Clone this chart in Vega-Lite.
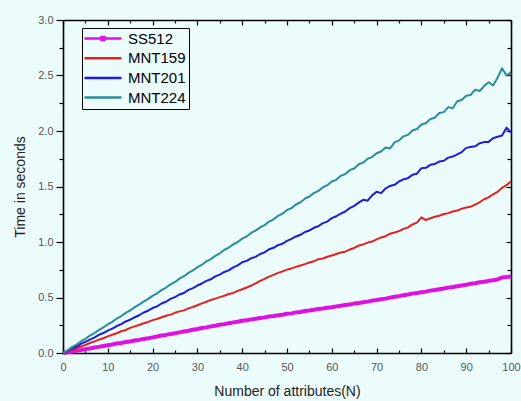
{
"$schema": "https://vega.github.io/schema/vega-lite/v6.json",
"width": 448, "height": 333,
"autosize": {"type": "none"},
"padding": {"left": 63, "top": 20, "right": 10, "bottom": 48},
"background": "#ecfcfc",
"config": {"view": {"stroke": null}, "font": "Liberation Sans", "legend": {"strokeWidth": 1}},
"datasets": {"d": [
{"N":0,"s":"SS512","t":0},{"N":1,"s":"SS512","t":0.007},{"N":2,"s":"SS512","t":0.013},{"N":3,"s":"SS512","t":0.021},{"N":4,"s":"SS512","t":0.027},{"N":5,"s":"SS512","t":0.035},{"N":6,"s":"SS512","t":0.041},{"N":7,"s":"SS512","t":0.049},{"N":8,"s":"SS512","t":0.055},{"N":9,"s":"SS512","t":0.063},{"N":10,"s":"SS512","t":0.070},
{"N":11,"s":"SS512","t":0.076},{"N":12,"s":"SS512","t":0.085},{"N":13,"s":"SS512","t":0.090},{"N":14,"s":"SS512","t":0.099},{"N":15,"s":"SS512","t":0.104},{"N":16,"s":"SS512","t":0.112},{"N":17,"s":"SS512","t":0.118},{"N":18,"s":"SS512","t":0.127},{"N":19,"s":"SS512","t":0.132},{"N":20,"s":"SS512","t":0.141},
{"N":21,"s":"SS512","t":0.148},{"N":22,"s":"SS512","t":0.157},{"N":23,"s":"SS512","t":0.163},{"N":24,"s":"SS512","t":0.172},{"N":25,"s":"SS512","t":0.178},{"N":26,"s":"SS512","t":0.186},{"N":27,"s":"SS512","t":0.194},{"N":28,"s":"SS512","t":0.200},{"N":29,"s":"SS512","t":0.210},{"N":30,"s":"SS512","t":0.216},
{"N":31,"s":"SS512","t":0.225},{"N":32,"s":"SS512","t":0.231},{"N":33,"s":"SS512","t":0.240},{"N":34,"s":"SS512","t":0.246},{"N":35,"s":"SS512","t":0.254},{"N":36,"s":"SS512","t":0.260},{"N":37,"s":"SS512","t":0.268},{"N":38,"s":"SS512","t":0.276},{"N":39,"s":"SS512","t":0.281},{"N":40,"s":"SS512","t":0.290},
{"N":41,"s":"SS512","t":0.295},{"N":42,"s":"SS512","t":0.303},{"N":43,"s":"SS512","t":0.308},{"N":44,"s":"SS512","t":0.316},{"N":45,"s":"SS512","t":0.321},{"N":46,"s":"SS512","t":0.328},{"N":47,"s":"SS512","t":0.333},{"N":48,"s":"SS512","t":0.340},{"N":49,"s":"SS512","t":0.345},{"N":50,"s":"SS512","t":0.353},
{"N":51,"s":"SS512","t":0.357},{"N":52,"s":"SS512","t":0.366},{"N":53,"s":"SS512","t":0.370},{"N":54,"s":"SS512","t":0.378},{"N":55,"s":"SS512","t":0.383},{"N":56,"s":"SS512","t":0.389},{"N":57,"s":"SS512","t":0.396},{"N":58,"s":"SS512","t":0.401},{"N":59,"s":"SS512","t":0.408},{"N":60,"s":"SS512","t":0.413},
{"N":61,"s":"SS512","t":0.420},{"N":62,"s":"SS512","t":0.425},{"N":63,"s":"SS512","t":0.432},{"N":64,"s":"SS512","t":0.437},{"N":65,"s":"SS512","t":0.445},{"N":66,"s":"SS512","t":0.450},{"N":67,"s":"SS512","t":0.457},{"N":68,"s":"SS512","t":0.463},{"N":69,"s":"SS512","t":0.472},{"N":70,"s":"SS512","t":0.478},
{"N":71,"s":"SS512","t":0.485},{"N":72,"s":"SS512","t":0.490},{"N":73,"s":"SS512","t":0.499},{"N":74,"s":"SS512","t":0.506},{"N":75,"s":"SS512","t":0.512},{"N":76,"s":"SS512","t":0.521},{"N":77,"s":"SS512","t":0.527},{"N":78,"s":"SS512","t":0.535},{"N":79,"s":"SS512","t":0.541},{"N":80,"s":"SS512","t":0.548},
{"N":81,"s":"SS512","t":0.553},{"N":82,"s":"SS512","t":0.562},{"N":83,"s":"SS512","t":0.567},{"N":84,"s":"SS512","t":0.575},{"N":85,"s":"SS512","t":0.581},{"N":86,"s":"SS512","t":0.589},{"N":87,"s":"SS512","t":0.594},{"N":88,"s":"SS512","t":0.602},{"N":89,"s":"SS512","t":0.608},{"N":90,"s":"SS512","t":0.615},
{"N":91,"s":"SS512","t":0.623},{"N":92,"s":"SS512","t":0.629},{"N":93,"s":"SS512","t":0.637},{"N":94,"s":"SS512","t":0.642},{"N":95,"s":"SS512","t":0.650},{"N":96,"s":"SS512","t":0.656},{"N":97,"s":"SS512","t":0.663},{"N":98,"s":"SS512","t":0.680},{"N":99,"s":"SS512","t":0.684},{"N":100,"s":"SS512","t":0.690},
{"N":0,"s":"MNT159","t":0},{"N":1,"s":"MNT159","t":0.012},{"N":2,"s":"MNT159","t":0.028},{"N":3,"s":"MNT159","t":0.043},{"N":4,"s":"MNT159","t":0.058},{"N":5,"s":"MNT159","t":0.072},{"N":6,"s":"MNT159","t":0.090},{"N":7,"s":"MNT159","t":0.103},{"N":8,"s":"MNT159","t":0.120},{"N":9,"s":"MNT159","t":0.133},{"N":10,"s":"MNT159","t":0.150},
{"N":11,"s":"MNT159","t":0.164},{"N":12,"s":"MNT159","t":0.178},{"N":13,"s":"MNT159","t":0.196},{"N":14,"s":"MNT159","t":0.207},{"N":15,"s":"MNT159","t":0.226},{"N":16,"s":"MNT159","t":0.240},{"N":17,"s":"MNT159","t":0.252},{"N":18,"s":"MNT159","t":0.268},{"N":19,"s":"MNT159","t":0.280},{"N":20,"s":"MNT159","t":0.296},
{"N":21,"s":"MNT159","t":0.306},{"N":22,"s":"MNT159","t":0.322},{"N":23,"s":"MNT159","t":0.335},{"N":24,"s":"MNT159","t":0.346},{"N":25,"s":"MNT159","t":0.362},{"N":26,"s":"MNT159","t":0.375},{"N":27,"s":"MNT159","t":0.384},{"N":28,"s":"MNT159","t":0.402},{"N":29,"s":"MNT159","t":0.414},{"N":30,"s":"MNT159","t":0.430},
{"N":31,"s":"MNT159","t":0.447},{"N":32,"s":"MNT159","t":0.462},{"N":33,"s":"MNT159","t":0.478},{"N":34,"s":"MNT159","t":0.490},{"N":35,"s":"MNT159","t":0.503},{"N":36,"s":"MNT159","t":0.516},{"N":37,"s":"MNT159","t":0.531},{"N":38,"s":"MNT159","t":0.541},{"N":39,"s":"MNT159","t":0.560},{"N":40,"s":"MNT159","t":0.574},
{"N":41,"s":"MNT159","t":0.590},{"N":42,"s":"MNT159","t":0.607},{"N":43,"s":"MNT159","t":0.628},{"N":44,"s":"MNT159","t":0.650},{"N":45,"s":"MNT159","t":0.668},{"N":46,"s":"MNT159","t":0.688},{"N":47,"s":"MNT159","t":0.704},{"N":48,"s":"MNT159","t":0.722},{"N":49,"s":"MNT159","t":0.735},{"N":50,"s":"MNT159","t":0.751},
{"N":51,"s":"MNT159","t":0.762},{"N":52,"s":"MNT159","t":0.776},{"N":53,"s":"MNT159","t":0.788},{"N":54,"s":"MNT159","t":0.801},{"N":55,"s":"MNT159","t":0.815},{"N":56,"s":"MNT159","t":0.826},{"N":57,"s":"MNT159","t":0.845},{"N":58,"s":"MNT159","t":0.851},{"N":59,"s":"MNT159","t":0.867},{"N":60,"s":"MNT159","t":0.879},
{"N":61,"s":"MNT159","t":0.892},{"N":62,"s":"MNT159","t":0.905},{"N":63,"s":"MNT159","t":0.913},{"N":64,"s":"MNT159","t":0.932},{"N":65,"s":"MNT159","t":0.946},{"N":66,"s":"MNT159","t":0.968},{"N":67,"s":"MNT159","t":0.978},{"N":68,"s":"MNT159","t":0.995},{"N":69,"s":"MNT159","t":1.004},{"N":70,"s":"MNT159","t":1.024},
{"N":71,"s":"MNT159","t":1.041},{"N":72,"s":"MNT159","t":1.052},{"N":73,"s":"MNT159","t":1.075},{"N":74,"s":"MNT159","t":1.086},{"N":75,"s":"MNT159","t":1.098},{"N":76,"s":"MNT159","t":1.118},{"N":77,"s":"MNT159","t":1.132},{"N":78,"s":"MNT159","t":1.158},{"N":79,"s":"MNT159","t":1.175},{"N":80,"s":"MNT159","t":1.222},
{"N":81,"s":"MNT159","t":1.197},{"N":82,"s":"MNT159","t":1.214},{"N":83,"s":"MNT159","t":1.228},{"N":84,"s":"MNT159","t":1.236},{"N":85,"s":"MNT159","t":1.252},{"N":86,"s":"MNT159","t":1.260},{"N":87,"s":"MNT159","t":1.275},{"N":88,"s":"MNT159","t":1.283},{"N":89,"s":"MNT159","t":1.300},{"N":90,"s":"MNT159","t":1.310},
{"N":91,"s":"MNT159","t":1.318},{"N":92,"s":"MNT159","t":1.336},{"N":93,"s":"MNT159","t":1.358},{"N":94,"s":"MNT159","t":1.385},{"N":95,"s":"MNT159","t":1.402},{"N":96,"s":"MNT159","t":1.430},{"N":97,"s":"MNT159","t":1.452},{"N":98,"s":"MNT159","t":1.488},{"N":99,"s":"MNT159","t":1.512},{"N":100,"s":"MNT159","t":1.548},
{"N":0,"s":"MNT201","t":0},{"N":1,"s":"MNT201","t":0.018},{"N":2,"s":"MNT201","t":0.040},{"N":3,"s":"MNT201","t":0.058},{"N":4,"s":"MNT201","t":0.082},{"N":5,"s":"MNT201","t":0.100},{"N":6,"s":"MNT201","t":0.121},{"N":7,"s":"MNT201","t":0.139},{"N":8,"s":"MNT201","t":0.163},{"N":9,"s":"MNT201","t":0.180},{"N":10,"s":"MNT201","t":0.202},
{"N":11,"s":"MNT201","t":0.219},{"N":12,"s":"MNT201","t":0.243},{"N":13,"s":"MNT201","t":0.260},{"N":14,"s":"MNT201","t":0.284},{"N":15,"s":"MNT201","t":0.300},{"N":16,"s":"MNT201","t":0.322},{"N":17,"s":"MNT201","t":0.340},{"N":18,"s":"MNT201","t":0.365},{"N":19,"s":"MNT201","t":0.381},{"N":20,"s":"MNT201","t":0.405},
{"N":21,"s":"MNT201","t":0.420},{"N":22,"s":"MNT201","t":0.446},{"N":23,"s":"MNT201","t":0.462},{"N":24,"s":"MNT201","t":0.488},{"N":25,"s":"MNT201","t":0.503},{"N":26,"s":"MNT201","t":0.527},{"N":27,"s":"MNT201","t":0.541},{"N":28,"s":"MNT201","t":0.569},{"N":29,"s":"MNT201","t":0.585},{"N":30,"s":"MNT201","t":0.608},
{"N":31,"s":"MNT201","t":0.626},{"N":32,"s":"MNT201","t":0.650},{"N":33,"s":"MNT201","t":0.664},{"N":34,"s":"MNT201","t":0.690},{"N":35,"s":"MNT201","t":0.706},{"N":36,"s":"MNT201","t":0.730},{"N":37,"s":"MNT201","t":0.744},{"N":38,"s":"MNT201","t":0.772},{"N":39,"s":"MNT201","t":0.790},{"N":40,"s":"MNT201","t":0.818},
{"N":41,"s":"MNT201","t":0.830},{"N":42,"s":"MNT201","t":0.853},{"N":43,"s":"MNT201","t":0.866},{"N":44,"s":"MNT201","t":0.892},{"N":45,"s":"MNT201","t":0.907},{"N":46,"s":"MNT201","t":0.935},{"N":47,"s":"MNT201","t":0.948},{"N":48,"s":"MNT201","t":0.972},{"N":49,"s":"MNT201","t":0.984},{"N":50,"s":"MNT201","t":1.010},
{"N":51,"s":"MNT201","t":1.028},{"N":52,"s":"MNT201","t":1.050},{"N":53,"s":"MNT201","t":1.065},{"N":54,"s":"MNT201","t":1.090},{"N":55,"s":"MNT201","t":1.104},{"N":56,"s":"MNT201","t":1.128},{"N":57,"s":"MNT201","t":1.142},{"N":58,"s":"MNT201","t":1.170},{"N":59,"s":"MNT201","t":1.184},{"N":60,"s":"MNT201","t":1.215},
{"N":61,"s":"MNT201","t":1.232},{"N":62,"s":"MNT201","t":1.256},{"N":63,"s":"MNT201","t":1.275},{"N":64,"s":"MNT201","t":1.305},{"N":65,"s":"MNT201","t":1.325},{"N":66,"s":"MNT201","t":1.355},{"N":67,"s":"MNT201","t":1.380},{"N":68,"s":"MNT201","t":1.372},{"N":69,"s":"MNT201","t":1.420},{"N":70,"s":"MNT201","t":1.452},
{"N":71,"s":"MNT201","t":1.440},{"N":72,"s":"MNT201","t":1.482},{"N":73,"s":"MNT201","t":1.505},{"N":74,"s":"MNT201","t":1.515},{"N":75,"s":"MNT201","t":1.545},{"N":76,"s":"MNT201","t":1.565},{"N":77,"s":"MNT201","t":1.575},{"N":78,"s":"MNT201","t":1.605},{"N":79,"s":"MNT201","t":1.615},{"N":80,"s":"MNT201","t":1.665},
{"N":81,"s":"MNT201","t":1.668},{"N":82,"s":"MNT201","t":1.695},{"N":83,"s":"MNT201","t":1.703},{"N":84,"s":"MNT201","t":1.725},{"N":85,"s":"MNT201","t":1.732},{"N":86,"s":"MNT201","t":1.760},{"N":87,"s":"MNT201","t":1.770},{"N":88,"s":"MNT201","t":1.790},{"N":89,"s":"MNT201","t":1.810},{"N":90,"s":"MNT201","t":1.848},
{"N":91,"s":"MNT201","t":1.855},{"N":92,"s":"MNT201","t":1.862},{"N":93,"s":"MNT201","t":1.890},{"N":94,"s":"MNT201","t":1.900},{"N":95,"s":"MNT201","t":1.902},{"N":96,"s":"MNT201","t":1.935},{"N":97,"s":"MNT201","t":1.948},{"N":98,"s":"MNT201","t":1.960},{"N":99,"s":"MNT201","t":2.030},{"N":100,"s":"MNT201","t":1.985},
{"N":0,"s":"MNT224","t":0},{"N":1,"s":"MNT224","t":0.024},{"N":2,"s":"MNT224","t":0.053},{"N":3,"s":"MNT224","t":0.076},{"N":4,"s":"MNT224","t":0.104},{"N":5,"s":"MNT224","t":0.128},{"N":6,"s":"MNT224","t":0.156},{"N":7,"s":"MNT224","t":0.179},{"N":8,"s":"MNT224","t":0.207},{"N":9,"s":"MNT224","t":0.230},{"N":10,"s":"MNT224","t":0.258},
{"N":11,"s":"MNT224","t":0.281},{"N":12,"s":"MNT224","t":0.310},{"N":13,"s":"MNT224","t":0.333},{"N":14,"s":"MNT224","t":0.361},{"N":15,"s":"MNT224","t":0.384},{"N":16,"s":"MNT224","t":0.413},{"N":17,"s":"MNT224","t":0.436},{"N":18,"s":"MNT224","t":0.463},{"N":19,"s":"MNT224","t":0.487},{"N":20,"s":"MNT224","t":0.515},
{"N":21,"s":"MNT224","t":0.538},{"N":22,"s":"MNT224","t":0.567},{"N":23,"s":"MNT224","t":0.590},{"N":24,"s":"MNT224","t":0.618},{"N":25,"s":"MNT224","t":0.640},{"N":26,"s":"MNT224","t":0.670},{"N":27,"s":"MNT224","t":0.692},{"N":28,"s":"MNT224","t":0.722},{"N":29,"s":"MNT224","t":0.744},{"N":30,"s":"MNT224","t":0.773},
{"N":31,"s":"MNT224","t":0.795},{"N":32,"s":"MNT224","t":0.825},{"N":33,"s":"MNT224","t":0.846},{"N":34,"s":"MNT224","t":0.876},{"N":35,"s":"MNT224","t":0.898},{"N":36,"s":"MNT224","t":0.928},{"N":37,"s":"MNT224","t":0.950},{"N":38,"s":"MNT224","t":0.978},{"N":39,"s":"MNT224","t":1.000},{"N":40,"s":"MNT224","t":1.030},
{"N":41,"s":"MNT224","t":1.050},{"N":42,"s":"MNT224","t":1.082},{"N":43,"s":"MNT224","t":1.103},{"N":44,"s":"MNT224","t":1.132},{"N":45,"s":"MNT224","t":1.152},{"N":46,"s":"MNT224","t":1.184},{"N":47,"s":"MNT224","t":1.204},{"N":48,"s":"MNT224","t":1.236},{"N":49,"s":"MNT224","t":1.255},{"N":50,"s":"MNT224","t":1.288},
{"N":51,"s":"MNT224","t":1.305},{"N":52,"s":"MNT224","t":1.338},{"N":53,"s":"MNT224","t":1.358},{"N":54,"s":"MNT224","t":1.390},{"N":55,"s":"MNT224","t":1.410},{"N":56,"s":"MNT224","t":1.440},{"N":57,"s":"MNT224","t":1.460},{"N":58,"s":"MNT224","t":1.492},{"N":59,"s":"MNT224","t":1.512},{"N":60,"s":"MNT224","t":1.545},
{"N":61,"s":"MNT224","t":1.560},{"N":62,"s":"MNT224","t":1.596},{"N":63,"s":"MNT224","t":1.612},{"N":64,"s":"MNT224","t":1.647},{"N":65,"s":"MNT224","t":1.662},{"N":66,"s":"MNT224","t":1.700},{"N":67,"s":"MNT224","t":1.715},{"N":68,"s":"MNT224","t":1.750},{"N":69,"s":"MNT224","t":1.765},{"N":70,"s":"MNT224","t":1.800},
{"N":71,"s":"MNT224","t":1.815},{"N":72,"s":"MNT224","t":1.852},{"N":73,"s":"MNT224","t":1.842},{"N":74,"s":"MNT224","t":1.898},{"N":75,"s":"MNT224","t":1.915},{"N":76,"s":"MNT224","t":1.952},{"N":77,"s":"MNT224","t":1.965},{"N":78,"s":"MNT224","t":2.005},{"N":79,"s":"MNT224","t":2.018},{"N":80,"s":"MNT224","t":2.058},
{"N":81,"s":"MNT224","t":2.070},{"N":82,"s":"MNT224","t":2.108},{"N":83,"s":"MNT224","t":2.120},{"N":84,"s":"MNT224","t":2.162},{"N":85,"s":"MNT224","t":2.170},{"N":86,"s":"MNT224","t":2.215},{"N":87,"s":"MNT224","t":2.205},{"N":88,"s":"MNT224","t":2.268},{"N":89,"s":"MNT224","t":2.280},{"N":90,"s":"MNT224","t":2.318},
{"N":91,"s":"MNT224","t":2.325},{"N":92,"s":"MNT224","t":2.372},{"N":93,"s":"MNT224","t":2.360},{"N":94,"s":"MNT224","t":2.405},{"N":95,"s":"MNT224","t":2.440},{"N":96,"s":"MNT224","t":2.410},{"N":97,"s":"MNT224","t":2.480},{"N":98,"s":"MNT224","t":2.565},{"N":99,"s":"MNT224","t":2.500},{"N":100,"s":"MNT224","t":2.530}
]},
"data": {"name": "d"},
"layer": [
{
"mark": {"type": "line", "strokeJoin": "round"},
"encoding": {
"x": {"field": "N", "type": "quantitative", "scale": {"domain": [0, 100], "nice": false},
"axis": {"orient": "bottom", "values": [0,5,10,15,20,25,30,35,40,45,50,55,60,65,70,75,80,85,90,95,100],
"labelExpr": "datum.value % 10 === 0 ? datum.label : ''",
"title": "Number of attributes(N)", "titleFont": "Liberation Sans", "titleFontSize": 14, "titleFontWeight": "normal", "titleColor": "#222", "titlePadding": 12,
"labelFont": "Liberation Sans", "labelFontSize": 11, "labelColor": "#555", "labelPadding": 13, "labelFlush": false,
"tickSize": {"condition": {"test": "datum.value % 10 === 0", "value": -5}, "value": -3},
"tickColor": "#000", "tickWidth": 1.2, "domainColor": "#000", "domainWidth": 1.6, "grid": false}},
"y": {"field": "t", "type": "quantitative", "scale": {"domain": [0, 3], "nice": false},
"axis": {"orient": "left", "values": [0,0.25,0.5,0.75,1,1.25,1.5,1.75,2,2.25,2.5,2.75,3],
"labelExpr": "datum.value % 0.5 === 0 ? format(datum.value, '.1f') : ''",
"title": "Time in seconds", "titleFont": "Liberation Sans", "titleFontSize": 14, "titleFontWeight": "normal", "titleColor": "#222", "titlePadding": 10,
"labelFont": "Liberation Sans", "labelFontSize": 11, "labelColor": "#555", "labelPadding": 3, "labelFlush": false,
"tickSize": {"condition": {"test": "datum.value % 0.5 === 0", "value": 7}, "value": 4},
"tickColor": "#000", "tickWidth": 1.2, "domainColor": "#000", "domainWidth": 1.6, "grid": false}},
"color": {"field": "s", "type": "nominal",
"scale": {"domain": ["SS512", "MNT159", "MNT201", "MNT224"], "range": ["#e010e0", "#e8201c", "#1c1cdc", "#2a8c9c"]},
"legend": {"orient": "none", "legendX": 19, "legendY": 8, "title": null, "direction": "vertical",
"strokeColor": "#000", "padding": 3, "rowPadding": 3.7,
"labelFont": "Liberation Sans", "labelFontSize": 15, "labelColor": "#000", "labelOffset": 17.5,
"symbolType": "M-3.7,0H3.7", "symbolSize": 100, "symbolStrokeWidth": 2.5, "symbolOffset": 10.5,
"encode": {"symbols": {"update": {"shape": {"signal": "datum.value === 'SS512' ? 'M-3.7,0H3.7M-0.3,-0.3H0.3V0.3H-0.3Z' : 'M-3.7,0H3.7'"}}}}}},
"strokeWidth": {"condition": {"test": "datum.s === 'SS512'", "value": 4}, "value": 2}
}
},
{
"mark": {"type": "point", "opacity": 0},
"encoding": {
"x": {"field": "N", "type": "quantitative", "scale": {"domain": [0, 100], "nice": false},
"axis": {"orient": "top", "values": [0,5,10,15,20,25,30,35,40,45,50,55,60,65,70,75,80,85,90,95,100], "labels": false, "title": null,
"tickSize": {"condition": {"test": "datum.value % 10 === 0", "value": -5}, "value": -3},
"tickColor": "#000", "tickWidth": 1.2, "domainColor": "#000", "domainWidth": 1.6, "grid": false}},
"y": {"field": "t", "type": "quantitative", "scale": {"domain": [0, 3], "nice": false},
"axis": {"orient": "right", "values": [0,0.25,0.5,0.75,1,1.25,1.5,1.75,2,2.25,2.5,2.75,3], "labels": false, "title": null,
"tickSize": {"condition": {"test": "datum.value % 0.5 === 0", "value": -5}, "value": -4},
"tickColor": "#000", "tickWidth": 1.2, "domainColor": "#000", "domainWidth": 1.6, "grid": false}}
}
}
],
"resolve": {"axis": {"x": "independent", "y": "independent"}}
}
